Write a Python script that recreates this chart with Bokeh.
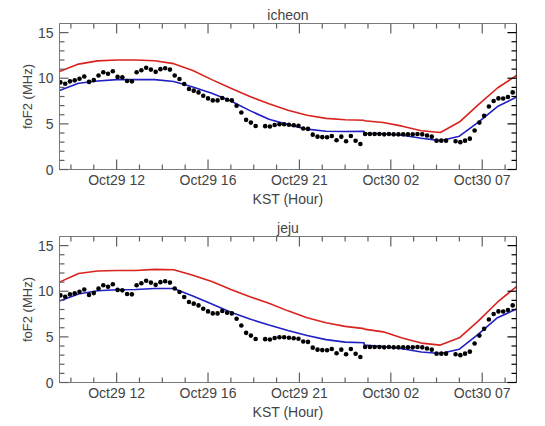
import numpy as np
from bokeh.plotting import figure
from bokeh.layouts import column
from bokeh.models import Range1d, FixedTicker, ColumnDataSource, Span
from bokeh.embed import file_html
from bokeh.resources import INLINE

# ---------------- data ----------------
obs_hours = list(np.arange(9.05, 33.0, 0.25))
obs_fof2 = [
    9.55, 9.4, 9.66, 9.77, 9.95, 10.2, 9.6, 9.8, 10.3, 10.65, 10.5, 10.76,
    10.15, 10.1, 9.7, 9.66, 10.65, 10.87, 11.15, 10.95, 10.7, 11.0, 11.1, 10.95,
    10.3, 9.92, 9.37, 8.82, 8.64, 8.45, 8.08, 7.79, 7.57, 7.57, 7.83, 7.64,
    7.57, 6.98, 6.24, 5.44, 5.14, 4.77, float("nan"), 4.75, 4.72, 4.88, 4.95, 4.95,
    4.9, 4.85, 4.8, 4.5, 4.45, 3.82, 3.6, 3.55, 3.53, 3.67, 3.2, 3.6,
    3.1, 3.67, 3.15, 2.8, 3.89, 3.89, 3.89, 3.89, 3.85, 3.89, 3.85, 3.85,
    3.85, 3.85, 3.85, 3.89, 3.85, 3.72, 3.6, 3.16, 3.16, 3.16, float("nan"), 3.09,
    3.0, 3.16, 3.38, 4.28, 5.14, 5.88, 6.9, 7.5, 7.79, 7.79, 7.94, 8.45,
]

model_hours = [9, 10, 11, 12, 13, 14, 15, 16, 17, 18, 19, 20, 21, 22, 23, 24,
               25, 25, 26, 27, 28, 29, 30, 31, 32, 33]
icheon_red = [10.75, 11.55, 11.9, 12.0, 12.0, 11.92, 11.6, 10.85, 9.85, 8.9, 8.0, 7.2,
              6.5, 5.95, 5.6, 5.45, 5.4, 5.35, 5.15, 4.75, 4.25, 4.05, 5.2, 7.1, 8.93, 10.3]
icheon_blue = [8.67, 9.45, 9.7, 9.85, 9.87, 9.85, 9.65, 9.05, 8.35, 7.5, 6.45, 5.5,
               4.92, 4.42, 4.2, 4.17, 4.2, 3.98, 3.92, 3.75, 3.42, 3.16, 3.65, 5.2, 6.9, 7.94]
jeju_red = [11.0, 11.95, 12.22, 12.27, 12.28, 12.4, 12.35, 11.75, 11.07, 10.2, 9.4, 8.68,
            7.85, 7.1, 6.55, 6.15, 5.9, 5.85, 5.55, 4.87, 4.32, 4.1, 4.9, 6.75, 8.8, 10.52]
jeju_blue = [8.92, 9.7, 10.05, 10.16, 10.2, 10.3, 10.3, 9.47, 8.6, 7.7, 6.95, 6.3,
             5.7, 5.15, 4.7, 4.42, 4.35, 4.1, 3.95, 3.7, 3.35, 3.17, 3.65, 5.3, 7.1, 8.05]

stations = ["icheon", "jeju"]
tick_hours = [12.0, 16.8, 21.6, 26.4, 31.2]
tick_labels = ["Oct29 12", "Oct29 16", "Oct29 21", "Oct30 02", "Oct30 07"]
y_ticks = [0, 5, 10, 15]

# ---------------- styling ----------------
FONT = "Liberation Sans"
GREY = "#7a7a7a"
TICK = "#606060"
X0, X1, Y0, Y1 = 9.0, 33.0, 0.0, 16.0
minor_x = [round(v, 2) for v in np.arange(9.6, 33.0, 1.2) if round(v, 2) not in tick_hours]
minor_y = [v for v in range(1, 16) if v not in y_ticks]

W, H = 537, 213
BL, BR, BT, BB = 59, 21, 23, 44
FRAME_W = W - BL - BR
FRAME_H = H - BT - BB
px_x = FRAME_W / (X1 - X0)
px_y = FRAME_H / (Y1 - Y0)


def make_panel(name, red, blue):
    p = figure(width=W, height=H, output_backend="svg", toolbar_location=None,
               x_range=Range1d(X0, X1), y_range=Range1d(Y0, Y1),
               min_border_left=BL, min_border_right=BR, min_border_top=BT,
               min_border_bottom=BB, title=name)
    p.title.align = "center"
    p.title.text_font = FONT
    p.title.text_font_size = "14px"
    p.title.text_font_style = "normal"
    p.title.standoff = 2
    p.xgrid.visible = False
    p.ygrid.visible = False
    p.outline_line_color = GREY
    p.outline_line_width = 1

    xa = p.xaxis[0]
    xa.ticker = FixedTicker(ticks=tick_hours, minor_ticks=minor_x)
    xa.major_label_overrides = {h: lab for h, lab in zip(tick_hours, tick_labels)}
    xa.major_tick_in = 0
    xa.major_tick_out = 0
    xa.minor_tick_in = 0
    xa.minor_tick_out = 0
    xa.axis_line_color = GREY
    xa.major_label_text_font = FONT
    xa.major_label_text_font_size = "14px"
    xa.major_label_standoff = 2
    xa.axis_label = "KST (Hour)"
    xa.axis_label_text_font = FONT
    xa.axis_label_text_font_size = "14px"
    xa.axis_label_text_font_style = "normal"
    xa.axis_label_standoff = 0

    ya = p.yaxis[0]
    ya.ticker = FixedTicker(ticks=y_ticks, minor_ticks=minor_y)
    ya.major_tick_in = 0
    ya.major_tick_out = 0
    ya.minor_tick_in = 0
    ya.minor_tick_out = 0
    ya.axis_line_color = GREY
    ya.major_label_text_font = FONT
    ya.major_label_text_font_size = "14px"
    ya.major_label_standoff = 6
    ya.axis_label = "foF2 (MHz)"
    ya.axis_label_text_font = FONT
    ya.axis_label_text_font_size = "13px"
    ya.axis_label_text_font_style = "normal"
    ya.axis_label_standoff = 0

    # inward tick marks on bottom, top and left edges (grey) and right edge (black)
    tx = tick_hours + minor_x
    lx = [10 / px_y] * len(tick_hours) + [5 / px_y] * len(minor_x)
    ty = y_ticks + minor_y
    ly = [9 / px_x] * len(y_ticks) + [5 / px_x] * len(minor_y)
    seg = ColumnDataSource(dict(
        x0=tx + tx + [X0] * len(ty),
        y0=[Y0] * len(tx) + [Y1] * len(tx) + ty,
        x1=tx + tx + [X0 + v for v in ly],
        y1=[Y0 + v for v in lx] + [Y1 - v for v in lx] + ty,
    ))
    p.segment("x0", "y0", "x1", "y1", source=seg, line_color=TICK, line_width=1.2,
              level="overlay")
    seg_r = ColumnDataSource(dict(x0=[X1] * len(ty), y0=ty,
                                  x1=[X1 - v for v in ly], y1=ty))
    p.segment("x0", "y0", "x1", "y1", source=seg_r, line_color="black", line_width=1.2,
              level="overlay")
    p.add_layout(Span(location=X1, dimension="height", line_color="black", line_width=1.2))

    p.line(model_hours, red, line_color="#d8231f", line_width=1.6)
    p.line(model_hours, blue, line_color="#2020c4", line_width=1.6)
    src = ColumnDataSource(dict(x=obs_hours, y=obs_fof2))
    p.scatter("x", "y", source=src, size=4.6, fill_color="black", line_color=None,
              marker="circle")
    return p


p1 = make_panel(stations[0], icheon_red, icheon_blue)
p2 = make_panel(stations[1], jeju_red, jeju_blue)
layout = column(p1, p2, spacing=0)

with open("out.html", "w") as f:
    f.write(file_html(layout, INLINE))
